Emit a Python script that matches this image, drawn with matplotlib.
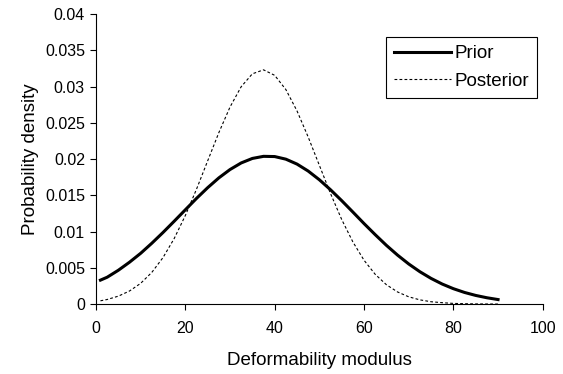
import matplotlib
matplotlib.use('Agg')
from matplotlib import pyplot as plt

plt.rcParams['font.family'] = ['Liberation Sans', 'DejaVu Sans']

# values
modulus = [1, 2.5, 5, 7.5, 10, 12.5, 15, 17.5, 20, 22.5, 25, 27.5, 30, 32.5, 35,
           37.5, 40, 42.5, 45, 47.5, 50, 52.5, 55, 57.5, 60, 62.5, 65, 67.5, 70,
           72.5, 75, 77.5, 80, 82.5, 85, 87.5, 90]
prior = [0.0033, 0.0037, 0.00466, 0.00577, 0.0070, 0.00839, 0.00987, 0.01142,
         0.0130, 0.01457, 0.01605, 0.0174, 0.01855, 0.01946, 0.02008, 0.02037,
         0.02034, 0.01998, 0.0193, 0.01834, 0.01714, 0.01576, 0.01426, 0.01269,
         0.0111, 0.00957, 0.0081, 0.00675, 0.00553, 0.00446, 0.00354, 0.00276,
         0.00212, 0.0016, 0.00119, 0.00087, 0.00062]
posterior = [0.00045, 0.00063, 0.00109, 0.0018, 0.00286, 0.00437, 0.00641, 0.00903,
             0.01221, 0.01584, 0.01975, 0.02364, 0.02717, 0.02997, 0.03175, 0.0323,
             0.03154, 0.02958, 0.02663, 0.02303, 0.01913, 0.01524, 0.01166, 0.00857,
             0.00604, 0.0041, 0.00267, 0.00167, 0.0010, 0.00058, 0.00032, 0.00019,
             0.00009, 0.00005, 0.00002, 0.00001, 0.0]

xticks = [0, 20, 40, 60, 80, 100]
yticks = [0, 0.005, 0.01, 0.015, 0.02, 0.025, 0.03, 0.035, 0.04]
ytick_labels = ['0', '0.005', '0.01', '0.015', '0.02', '0.025', '0.03', '0.035', '0.04']

fig = plt.figure(figsize=(5.63, 3.74), dpi=100)
ax = fig.add_axes([0.1705, 0.187, 0.7935, 0.7756])

ax.plot(modulus, prior, color='black', lw=2.2, label='Prior')
ax.plot(modulus, posterior, color='black', lw=0.8, linestyle=(0, (2.5, 2)),
        label='Posterior')

ax.set_xlim(0, 100)
ax.set_ylim(0, 0.04)
ax.set_xticks(xticks)
ax.set_yticks(yticks)
ax.set_yticklabels(ytick_labels)
ax.tick_params(direction='out', length=4, width=0.8, labelsize=11.5, colors='black')
ax.tick_params(axis='x', pad=8)
ax.tick_params(axis='y', pad=4)

for side in ('top', 'right'):
    ax.spines[side].set_visible(False)
for side in ('left', 'bottom'):
    ax.spines[side].set_linewidth(0.8)

ax.set_xlabel('Deformability modulus', fontsize=13.5, labelpad=12)
ax.set_ylabel('Probability density', fontsize=13.5, labelpad=4)

leg = ax.legend(loc='upper right', bbox_to_anchor=(0.988, 0.922), fontsize=13.5,
                handlelength=3.0, handletextpad=0.2, borderpad=0.45,
                labelspacing=0.55, fancybox=False, framealpha=1,
                borderaxespad=0)
leg.get_frame().set_edgecolor('black')
leg.get_frame().set_linewidth(0.8)

fig.savefig('out.png', dpi=100)
